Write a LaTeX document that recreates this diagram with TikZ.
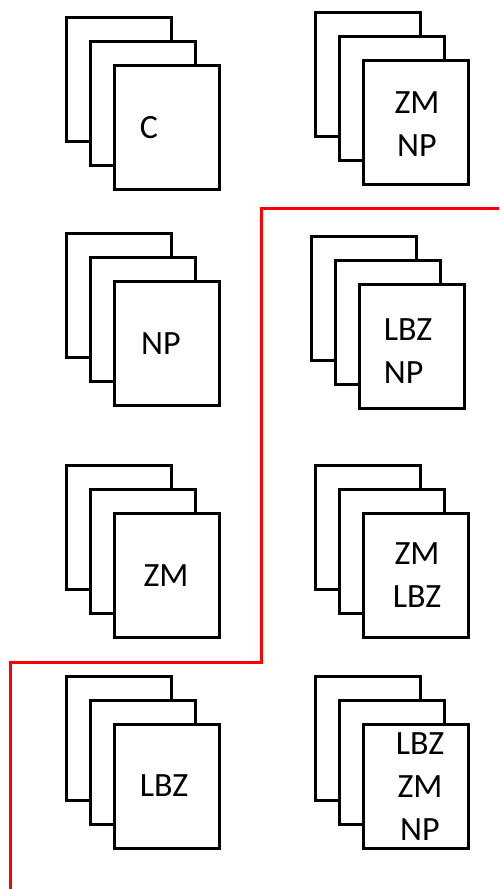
\documentclass[tikz,border=0pt]{standalone}
\usepackage{fontspec}
\setmainfont{Carlito}
\begin{document}
\begin{tikzpicture}[x=1pt,y=-1pt,
  card/.style={draw=black,fill=white,line width=3pt,minimum width=105pt,minimum height=124pt,anchor=north west,inner sep=0pt,outer sep=0pt},
  lbl/.style={font=\fontsize{34}{43}\selectfont,inner sep=0pt,align=center},
  lbll/.style={font=\fontsize{34}{43}\selectfont,inner sep=0pt,align=left},
  divider/.style={draw=red,line width=3pt}]
\useasboundingbox (0,0) rectangle (499,889);
% stack macro: back, middle, front
\newcommand{\mystack}[3]{%
  \node[card] (#1a) at (#2,#3) {};
  \node[card] (#1b) at (#2+24,#3+24) {};
  \node[card] (#1c) at (#2+48,#3+48) {};}
\mystack{s1}{66}{17}
\mystack{s2}{315}{12}
\mystack{s3}{66}{233}
\mystack{s4}{311}{236}
\mystack{s5}{66}{465}
\mystack{s6}{315}{465}
\mystack{s7}{66}{676}
\mystack{s8}{315}{676}
\node[lbl] (t1) at (149,128) {C};
\node[lbl] (t2) at (417,124) {ZM\\NP};
\node[lbl] (t3) at (161,344) {NP};
\node[lbll] (t4) at (408,351) {LBZ\\NP};
\node[lbl] (t5) at (166,576) {ZM};
\node[lbl] (t6) at (417,575) {ZM\\LBZ};
\node[lbl] (t7) at (164,786) {LBZ};
\node[lbl] (t8) at (420,787) {LBZ\\ZM\\NP};
\coordinate (r0) at (499,208);
\coordinate (r1) at (261,208);
\coordinate (r2) at (261,662);
\coordinate (r3) at (10,662);
\coordinate (r4) at (10,889);
\draw[divider] (r0) -- (r1) -- (r2) -- (r3) -- (r4);
\end{tikzpicture}
\end{document}
